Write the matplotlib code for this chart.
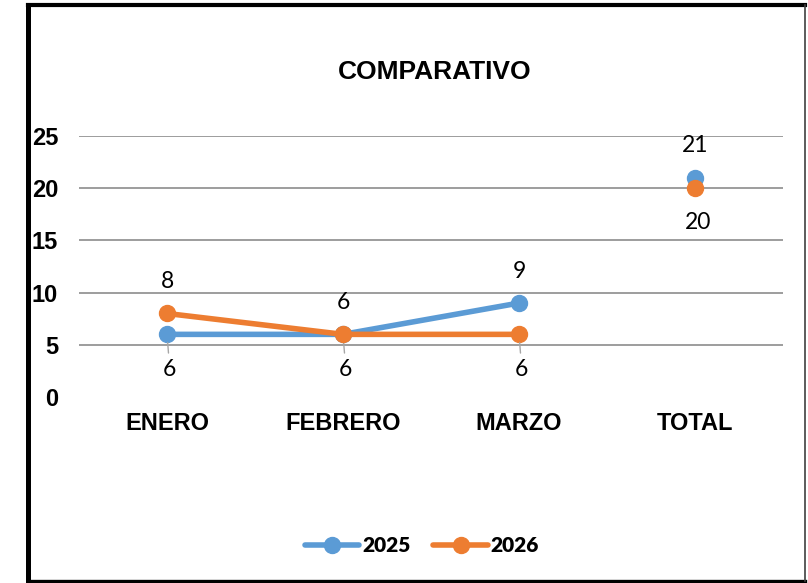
"""
Line chart: COMPARATIVO 2025 vs 2026
"""
import matplotlib.pyplot as plt
from matplotlib.lines import Line2D
import numpy as np

categories = ['ENERO', 'FEBRERO', 'MARZO', 'TOTAL']
values_2025 = [6, 6, 9, 21]
values_2026 = [8, 6, 6, 20]
# label placement per point: +1 above, -1 below
place_2025 = [-1, -1, 1, 1]
place_2026 = [1, 1, -1, -1]
y_ticks = [0, 5, 10, 15, 20, 25]

BLUE = '#5B9BD5'
ORANGE = '#ED7D31'
W, H = 808, 583
dpi = 100

fig = plt.figure(figsize=(W / dpi, H / dpi), dpi=dpi)
fig.patch.set_facecolor('white')

# axes box in pixel terms (from reference)
left, right, top, bottom = 79, 783, 136, 397
ax = fig.add_axes([left / W, 1 - bottom / H, (right - left) / W, (bottom - top) / H])

x = np.arange(len(categories)) + 0.5
ax.set_xlim(0, len(categories))
ax.set_ylim(0, 25)

def draw_series(vals, color, label, places):
    n = len(vals) - 1  # months are joined, TOTAL stands alone
    ax.plot(x[:n], vals[:n], color=color, lw=4.0, marker='o', ms=11.5,
            solid_capstyle='round', zorder=3, label=label)
    ax.plot(x[n:], vals[n:], color=color, lw=0, marker='o', ms=11.5, zorder=3)
    for xi, v, p in zip(x, vals, places):
        if p > 0:
            ax.annotate(str(v), (xi, v), xytext=(0, 23), textcoords='offset points',
                        ha='center', va='center', fontsize=16.5, family='Lato')
        else:
            ax.annotate(str(v), (xi, v), xytext=(2, -25), textcoords='offset points',
                        ha='center', va='center', fontsize=16.5, family='Lato',
                        arrowprops=dict(arrowstyle='-', color='#A6A6A6', lw=1,
                                        shrinkA=2, shrinkB=6) if v < 10 else None)

draw_series(values_2025, BLUE, '2025', place_2025)
draw_series(values_2026, ORANGE, '2026', place_2026)

ax.set_yticks(y_ticks)
ax.set_xticks(x)
ax.set_xticklabels(categories, fontsize=17, fontweight='bold', family='Liberation Sans')
ax.set_yticklabels([str(t) for t in y_ticks], fontsize=17, fontweight='bold',
                   family='Liberation Sans')
ax.tick_params(length=0)
ax.tick_params(axis='x', pad=11)
ax.tick_params(axis='y', pad=15)
for yl in y_ticks[1:]:
    ax.axhline(yl, color='#8C8C8C', lw=1.2, zorder=1)
for s in ax.spines.values():
    s.set_visible(False)

fig.text(435 / W, 1 - 72 / H, 'COMPARATIVO', ha='center', va='center',
         fontsize=19, fontweight='bold', family='Liberation Sans')

leg = fig.legend(loc='center', bbox_to_anchor=(422 / W, 1 - 546 / H), ncol=2,
                 frameon=False, handlelength=2.6, columnspacing=1.1, handletextpad=0.15,
                 prop={'family': 'Lato', 'weight': 'heavy', 'size': 15})

# outer frame (thick left/top/bottom, thin right like the original)
def px_line(x0, y0, x1, y1, lw, color='black'):
    fig.add_artist(Line2D([x0 / W, x1 / W], [1 - y0 / H, 1 - y1 / H],
                          transform=fig.transFigure, color=color, lw=lw,
                          solid_capstyle='projecting'))

px_line(27.5, 5, 27.5, 581, 3.6)
px_line(27.5, 5, 805, 5, 3.0)
px_line(27.5, 581, 805, 581, 2.4)
px_line(805, 5, 805, 581, 1.2, '#404040')

plt.savefig('out.png', dpi=dpi, facecolor='white')
plt.close()
